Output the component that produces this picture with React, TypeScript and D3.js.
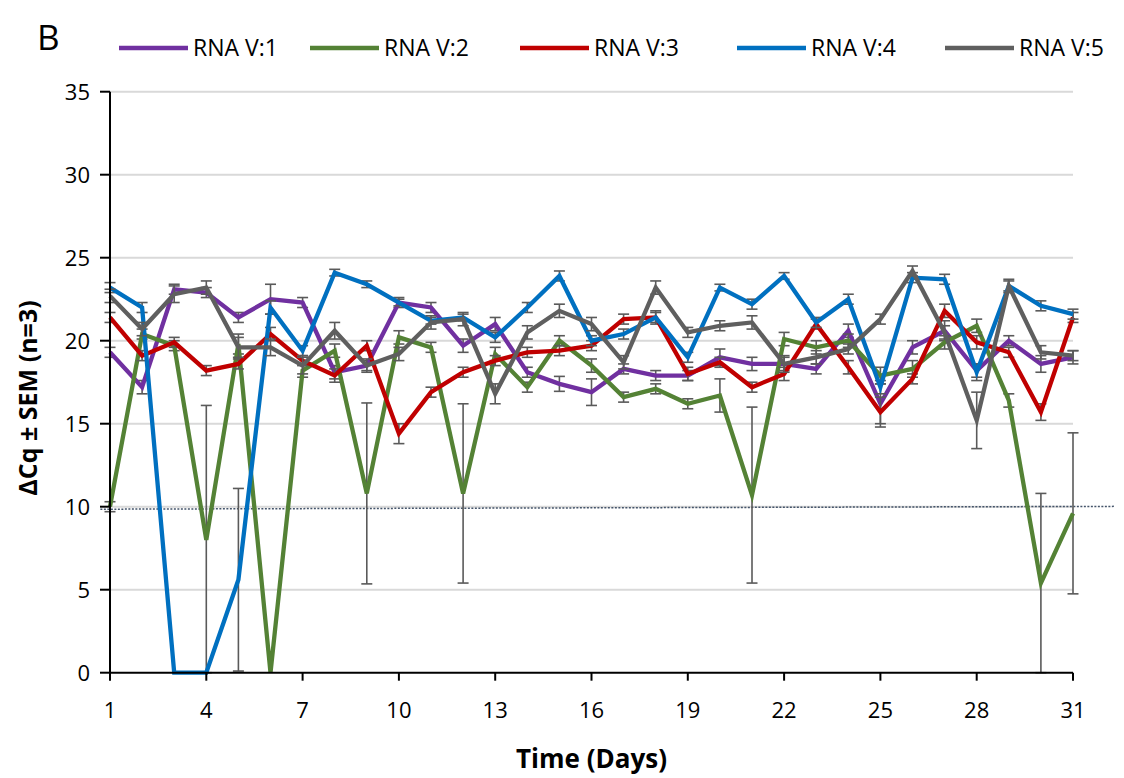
import * as d3 from 'd3';

const days = d3.range(1, 32);
const xTicks = [1, 4, 7, 10, 13, 16, 19, 22, 25, 28, 31];
const yTicks = [0, 5, 10, 15, 20, 25, 30, 35];

const seriesNames = ['RNA V:1', 'RNA V:2', 'RNA V:3', 'RNA V:4', 'RNA V:5'];
const seriesColors = ['#7030A0', '#548235', '#C00000', '#0070C0', '#5F5F5F'];

const rnaV1 = [19.3, 17.2, 23.1, 22.9, 21.4, 22.5, 22.3, 18.1, 18.5, 22.3, 22.0, 19.7, 21.0, 18.1, 17.4, 16.9, 18.3, 17.9, 17.9, 19.0, 18.6, 18.6, 18.3, 20.6, 16.2, 19.6, 20.6, 18.2, 20.0, 18.6, 19.0];
const rnaV2 = [10.0, 20.4, 19.7, 8.0, 19.8, 0, 18.2, 19.4, 10.8, 20.2, 19.6, 10.8, 19.2, 17.2, 20.0, 18.5, 16.6, 17.1, 16.2, 16.7, 10.7, 20.1, 19.6, 20.0, 17.9, 18.3, 19.9, 20.9, 16.4, 5.4, 9.6];
const rnaV3 = [21.4, 19.1, 19.9, 18.2, 18.6, 20.4, 18.8, 17.9, 19.7, 14.4, 16.9, 18.1, 18.8, 19.3, 19.4, 19.7, 21.3, 21.4, 18.0, 18.7, 17.2, 18.0, 21.0, 18.4, 15.7, 17.7, 21.8, 19.9, 19.3, 15.7, 21.4];
const rnaV4 = [23.2, 22.0, 0, 0, 5.6, 22.0, 19.4, 24.1, 23.4, 22.3, 21.2, 21.4, 20.2, 22.0, 23.9, 20.0, 20.4, 21.4, 19.0, 23.2, 22.2, 23.9, 21.1, 22.5, 17.2, 23.8, 23.7, 18.1, 23.3, 22.1, 21.6];
const rnaV5 = [22.7, 20.7, 22.8, 23.2, 19.6, 19.6, 18.5, 20.6, 18.5, 19.2, 21.1, 21.3, 16.8, 20.5, 21.8, 21.0, 18.7, 23.2, 20.5, 20.9, 21.1, 18.6, 19.0, 19.5, 21.3, 24.2, 20.5, 15.2, 23.3, 19.3, 19.1];

const semV1 = [0.3, 0.4, 0.3, 0.3, 0.3, 0.9, 0.3, 0.4, 0.3, 0.3, 0.3, 0.4, 0.4, 0.3, 0.45, 0.8, 0.3, 0.3, 0.3, 0.5, 0.4, 0.4, 0.3, 0.4, 1.2, 0.4, 0.6, 0.4, 0.3, 0.5, 0.4];
const semV2 = [0.3, 0.3, 0.3, 8.1, 0.6, 0, 0.4, 0.4, 5.45, 0.4, 0.3, 5.4, 0.4, 0.3, 0.3, 0.4, 0.3, 0.3, 0.3, 1.0, 5.3, 0.4, 0.4, 0.4, 0.5, 0.5, 0.4, 0.4, 0.4, 5.4, 4.85];
const semV3 = [0.3, 0.3, 0.3, 0.3, 0.3, 0.4, 0.3, 0.4, 0.3, 0.6, 0.3, 0.3, 0.3, 0.3, 0.3, 0.3, 0.3, 0.4, 0.4, 0.3, 0.3, 0.4, 0.3, 0.4, 0.9, 0.3, 0.4, 0.4, 0.3, 0.5, 0.3];
const semV4 = [0.3, 0.3, 0, 0, 5.5, 0.4, 0.3, 0.2, 0.2, 0.2, 0.2, 0.2, 0.3, 0.3, 0.3, 0.3, 0.3, 0.3, 0.3, 0.2, 0.3, 0.2, 0.3, 0.3, 0.4, 0.3, 0.3, 0.5, 0.3, 0.3, 0.3];
const semV5 = [0.4, 0.4, 0.5, 0.4, 0.6, 0.5, 0.5, 0.5, 0.4, 0.4, 0.4, 0.4, 0.6, 0.4, 0.4, 0.4, 0.4, 0.4, 0.3, 0.3, 0.4, 0.5, 0.4, 0.3, 0.3, 0.3, 0.4, 1.7, 0.4, 0.4, 0.3];

// dotted threshold line, slightly tilted as in the original figure
const thresholdDays = [0.7, 32.3];
const thresholdValues = [9.85, 10.02];

const allValues = [rnaV1, rnaV2, rnaV3, rnaV4, rnaV5];
const allSem = [semV1, semV2, semV3, semV4, semV5];

export default function App() {
  const width = 1124;
  const height = 778;
  const x = d3.scaleLinear().domain([1, 31]).range([110, 1073]);
  const y = d3.scaleLinear().domain([0, 35]).range([672.7, 91.7]);

  const line = d3
    .line<number>()
    .x((_, i) => x(days[i]))
    .y((d) => y(d));

  const thresholdLine = d3
    .line<number>()
    .x((_, i) => x(thresholdDays[i]))
    .y((d) => y(d));

  const font = "'Open Sans', 'Noto Sans', sans-serif";
  const legendX = [119, 310, 520, 737, 945];

  return (
    <svg
      width={width}
      height={height}
      style={{ position: 'absolute', left: 0, top: 0, background: '#fff' }}
      fontFamily={font}
    >
      {/* gridlines */}
      {yTicks.slice(1).map((t) => (
        <line key={t} x1={x(1)} x2={x(31)} y1={y(t)} y2={y(t)} stroke="#d9d9d9" strokeWidth={2} />
      ))}

      <path d={thresholdLine(thresholdValues) || ''} stroke="#44546A" strokeWidth={1.5} strokeDasharray="2 1.5" fill="none" />

      {/* series with error bars */}
      {allValues.map((vals, s) => (
        <g key={s}>
          {vals.map((v, i) => {
            const e = allSem[s][i];
            if (e <= 0) return null;
            const cx = x(days[i]);
            const lo = Math.max(0, v - e);
            return (
              <g key={i} stroke="#5a5a5a" strokeWidth={1.6}>
                <line x1={cx} x2={cx} y1={y(v + e)} y2={y(lo)} />
                <line x1={cx - 5.5} x2={cx + 5.5} y1={y(v + e)} y2={y(v + e)} />
                <line x1={cx - 5.5} x2={cx + 5.5} y1={y(lo)} y2={y(lo)} />
              </g>
            );
          })}
          <path d={line(vals) || ''} stroke={seriesColors[s]} strokeWidth={4.3} fill="none" strokeLinejoin="miter" />
        </g>
      ))}

      {/* axes */}
      <line x1={x(1)} x2={x(1)} y1={y(35)} y2={y(0)} stroke="#000" strokeWidth={2} />
      <line x1={x(1)} x2={x(31)} y1={y(0)} y2={y(0)} stroke="#000" strokeWidth={2} />
      {yTicks.map((t) => (
        <g key={t}>
          <line x1={x(1) - 10} x2={x(1)} y1={y(t)} y2={y(t)} stroke="#000" strokeWidth={2} />
          <text x={x(1) - 20} y={y(t)} dy="0.36em" textAnchor="end" fontSize={22} fill="#000">
            {t}
          </text>
        </g>
      ))}
      {xTicks.map((t) => (
        <g key={t}>
          <line x1={x(t)} x2={x(t)} y1={y(0)} y2={y(0) + 8} stroke="#000" strokeWidth={2} />
          <text x={x(t)} y={y(0) + 45} textAnchor="middle" fontSize={22} fill="#000">
            {t}
          </text>
        </g>
      ))}

      <text x={(x(1) + x(31)) / 2} y={768} textAnchor="middle" fontSize={26} fontWeight="bold" fill="#000">
        Time (Days)
      </text>
      <text
        transform={`translate(37, 398) rotate(-90)`}
        textAnchor="middle"
        fontSize={25}
        fontWeight="bold"
        fill="#000"
      >
        ΔCq ± SEM (n=3)
      </text>

      <text x={37} y={50} fontSize={35} fill="#000">
        B
      </text>

      {/* legend */}
      {seriesNames.map((name, s) => (
        <g key={name}>
          <line x1={legendX[s]} x2={legendX[s] + 69} y1={48} y2={48} stroke={seriesColors[s]} strokeWidth={4.5} />
          <text x={legendX[s] + 74} y={48} dy="0.36em" fontSize={23} fill="#000">
            {name}
          </text>
        </g>
      ))}
    </svg>
  );
}
